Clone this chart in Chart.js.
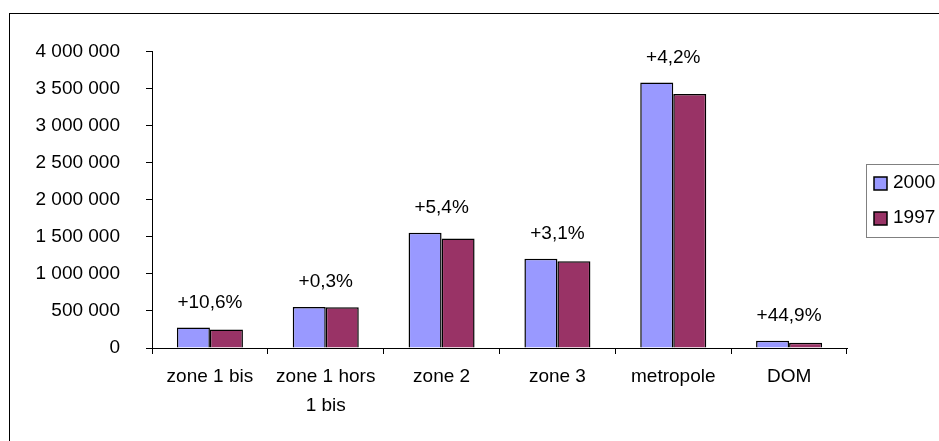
<!DOCTYPE html>
<html>
<head>
<meta charset="utf-8">
<script src="https://cdn.jsdelivr.net/npm/chart.js@4.4.0/dist/chart.umd.min.js"></script>
<style>
  html, body { margin: 0; padding: 0; background: #fff; overflow: hidden; }
  #frame { position: absolute; left: 9px; top: 13px; width: 1000px; height: 480px; border: 1px solid #000; }
  #chart { display: block; }
</style>
</head>
<body>
<div id="frame"><canvas id="chart" width="1000" height="480"></canvas></div>
<script>
// data
var zones = [['zone 1 bis'], ['zone 1 hors', '1 bis'], ['zone 2'], ['zone 3'], ['metropole'], ['DOM']];
var v2000 = [275000, 552000, 1555000, 1205000, 3582000, 98000];
var v1997 = [249000, 550000, 1476000, 1170000, 3425000, 70000];
var growth = ['+10,6%', '+0,3%', '+5,4%', '+3,1%', '+4,2%', '+44,9%'];
var seriesNames = ['2000', '1997'];
var seriesColors = ['#9999FF', '#993366'];

var FONT = '"Liberation Sans", Arial, sans-serif';

function spaced(n){
  return String(n).replace(/\B(?=(\d{3})+(?!\d))/g, ' ');
}

// percent labels above each group
var growthLabels = {
  id: 'growthLabels',
  afterDatasetsDraw: function(chart){
    var ctx = chart.ctx, xs = chart.scales.x, ys = chart.scales.y;
    ctx.save();
    ctx.font = '19px ' + FONT;
    ctx.fillStyle = '#000';
    ctx.textAlign = 'center';
    ctx.textBaseline = 'middle';
    growth.forEach(function(t, i){
      var top = Math.max(v2000[i], v1997[i]);
      ctx.fillText(t, xs.getPixelForValue(i), ys.getPixelForValue(top) - 25);
    });
    ctx.restore();
  }
};

// boxed legend on the right, like the excel one
var boxLegend = {
  id: 'boxLegend',
  afterDraw: function(chart){
    var ctx = chart.ctx;
    var ds = chart.data.datasets;
    ctx.save();
    ctx.strokeStyle = '#808080';
    ctx.lineWidth = 1;
    ctx.strokeRect(856.5, 150.5, 120, 73);
    ctx.font = '19px ' + FONT;
    ctx.textBaseline = 'middle';
    ctx.textAlign = 'left';
    ds.forEach(function(d, i){
      var cy = 169 + i * 35;
      ctx.fillStyle = d.backgroundColor;
      ctx.fillRect(864, cy - 6, 13, 13);
      ctx.strokeStyle = '#000';
      ctx.lineWidth = 1.5;
      ctx.strokeRect(864, cy - 6, 13, 13);
      ctx.fillStyle = '#000';
      ctx.fillText(d.label, 883, cy);
    });
    ctx.restore();
  }
};

document.addEventListener('DOMContentLoaded', function(){
  var ctx = document.getElementById('chart');
  new Chart(ctx.getContext('2d'), {
    type: 'bar',
    data: {
      labels: zones,
      datasets: [
        {label: seriesNames[0], data: v2000, backgroundColor: seriesColors[0], borderColor: '#000', borderWidth: 1.5},
        {label: seriesNames[1], data: v1997, backgroundColor: seriesColors[1], borderColor: '#000', borderWidth: 1.5}
      ]
    },
    options: {
      responsive: false,
      animation: false,
      devicePixelRatio: 1,
      categoryPercentage: 0.57,
      barPercentage: 1,
      layout: {padding: {left: 0, top: 37, right: 163, bottom: 46}},
      plugins: {legend: {display: false}, tooltip: {enabled: false}},
      scales: {
        x: {
          afterFit: function(s){ s.height = 100; },
          grid: {display: true, drawOnChartArea: false, offset: true, tickLength: 6, color: '#000'},
          border: {display: true, color: '#000', width: 1},
          ticks: {color: '#000', padding: 9, maxRotation: 0, autoSkip: false, font: {family: FONT, size: 19, lineHeight: 1.5}}
        },
        y: {
          min: 0, max: 4000000,
          afterFit: function(s){ s.width = 142; },
          grid: {display: true, drawOnChartArea: false, tickLength: 6, color: '#000'},
          border: {display: true, color: '#000', width: 1},
          ticks: {stepSize: 500000, color: '#000', padding: 26, font: {family: FONT, size: 19},
            callback: function(v){ return spaced(v); }}
        }
      }
    },
    plugins: [growthLabels, boxLegend]
  });
});
</script>
</body>
</html>
